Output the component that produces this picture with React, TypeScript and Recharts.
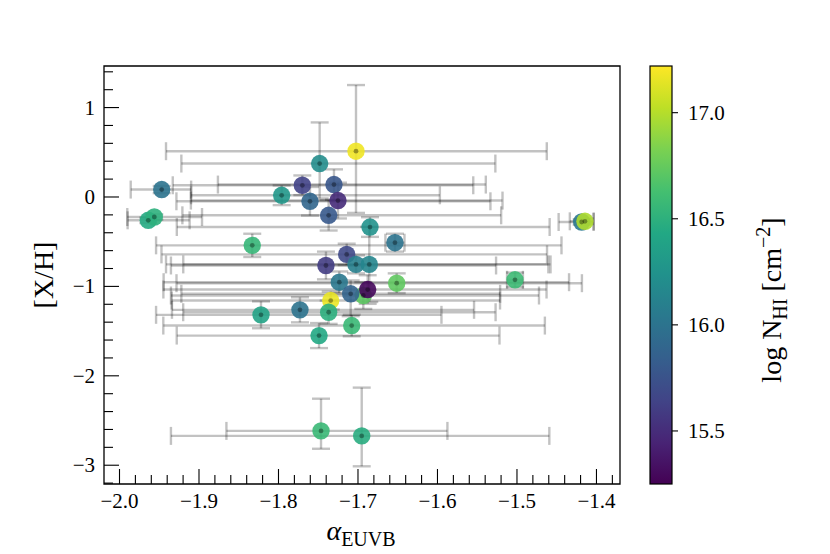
import React from 'react'
import { ScatterChart, Scatter, XAxis, YAxis, ErrorBar, ReferenceArea } from 'recharts'

// alpha_EUVB vs [X/H] per absorber, coloured by log N_HI
const alphaEuvb = [
  -1.7025, -1.7482, -1.77, -1.7302, -1.9469, -1.796, -1.7604, -1.7252, -1.7369,
  -1.9638, -1.9562, -1.4186, -1.4145, -1.6849, -1.833, -1.6535, -1.7142, -1.7403,
  -1.7025, -1.6858, -1.5025, -1.7235, -1.6513, -1.6933, -1.7092, -1.6878, -1.7343,
  -1.7369, -1.773, -1.822, -1.7079, -1.749, -1.7465, -1.6953,
]
const alphaErrLow = [
  0.239, 0.174, 0.163, 0.146, 0.039, 0.114, 0.168, 0.185, 0.184,
  0.026, 0.034, 0.029, 0.019, 0.243, 0.121, 0.012, 0.233, 0.195,
  0.239, 0.234, 0.01, 0.221, 0.277, 0.242, 0.213, 0.257, 0.2,
  0.183, 0.161, 0.132, 0.237, 0.179, 0.119, 0.24,
]
const alphaErrHigh = [
  0.24, 0.221, 0.215, 0.191, 0.037, 0.199, 0.227, 0.207, 0.217,
  0.052, 0.06, 0.015, 0.011, 0.226, 0.389, 0.012, 0.252, 0.214,
  0.242, 0.228, 0.01, 0.289, 0.233, 0.221, 0.188, 0.225, 0.213,
  0.21, 0.219, 0.227, 0.243, 0.227, 0.159, 0.236,
]
const metallicity = [
  0.512, 0.374, 0.131, 0.139, 0.083, 0.019, -0.048, -0.04, -0.205,
  -0.261, -0.224, -0.28, -0.272, -0.336, -0.541, -0.511, -0.642, -0.766,
  -0.754, -0.754, -0.926, -0.953, -0.964, -1.102, -1.083, -1.035, -1.158,
  -1.289, -1.262, -1.318, -1.438, -1.55, -2.616, -2.672,
]
const metalErrLow = [
  0.69, 0.39, 0.11, 0.17, 0.04, 0.11, 0.16, 0.2, 0.17,
  0.03, 0.03, 0.03, 0.03, 0.11, 0.13, 0.1, 0.12, 0.155,
  0.1, 0.42, 0.08, 0.12, 0.11, 0.15, 0.25, 0.16, 0.1,
  0.13, 0.14, 0.15, 0.12, 0.14, 0.2, 0.34,
]
const metalErrHigh = [
  0.74, 0.46, 0.11, 0.17, 0.04, 0.11, 0.16, 0.2, 0.17,
  0.03, 0.03, 0.03, 0.03, 0.11, 0.13, 0.1, 0.12, 0.155,
  0.1, 0.42, 0.08, 0.12, 0.11, 0.15, 0.15, 0.16, 0.1,
  0.13, 0.14, 0.15, 0.12, 0.14, 0.36, 0.54,
]
const logNHI = [
  17.18, 16.2, 15.64, 15.78, 16.0, 16.29, 15.9, 15.49, 15.8,
  16.45, 16.5, 16.04, 16.98, 16.24, 16.55, 16.0, 15.68, 15.6,
  16.1, 16.14, 16.59, 16.04, 16.73, 16.72, 15.88, 15.29, 17.16,
  16.49, 16.0, 16.39, 16.57, 16.43, 16.57, 16.47,
]

const xMajorTicks = [-2.0, -1.9, -1.8, -1.7, -1.6, -1.5, -1.4]
const yMajorTicks = [1, 0, -1, -2, -3]
const cbarTicks = [15.5, 16.0, 16.5, 17.0]

const X_DOMAIN: [number, number] = [-2.0195, -1.3704]
const Y_DOMAIN: [number, number] = [-3.21, 1.465]
const Z_MIN = 15.25
const Z_MAX = 17.22

const FONT = '"Liberation Serif", "DejaVu Serif", serif'
const MINUS = '\u2212'
const ERR_STROKE = 'rgba(0,0,0,0.24)'

const VIRIDIS = ['#440154', '#482475', '#414487', '#355f8d', '#2a788e', '#21918c',
  '#22a884', '#44bf70', '#7ad151', '#bddf26', '#fde725']

function hexRgb(h: string) {
  return [1, 3, 5].map(i => parseInt(h.slice(i, i + 2), 16))
}
function viridis(t: number) {
  const s = Math.min(Math.max(t, 0), 1) * (VIRIDIS.length - 1)
  const i = Math.min(Math.floor(s), VIRIDIS.length - 2)
  const f = s - i
  const a = hexRgb(VIRIDIS[i]), b = hexRgb(VIRIDIS[i + 1])
  const c = a.map((v, k) => Math.round(v + (b[k] - v) * f))
  return `rgb(${c[0]},${c[1]},${c[2]})`
}

// minor ticks like matplotlib's AutoMinorLocator
function withMinor(major: number[], n: number, lo: number, hi: number) {
  const sorted = [...major].sort((a, b) => a - b)
  const step = (sorted[1] - sorted[0]) / n
  const out: number[] = []
  for (let v = sorted[0] - step * 20; v <= hi + 1e-9; v += step) {
    const r = Math.round(v / step) * step
    if (r >= lo - 1e-9) out.push(Number(r.toFixed(4)))
  }
  return out
}
const xTicks = withMinor(xMajorTicks, 5, X_DOMAIN[0], X_DOMAIN[1])
const yTicks = withMinor(yMajorTicks, 5, Y_DOMAIN[0], Y_DOMAIN[1])

const isMajor = (v: number, list: number[]) => list.some(m => Math.abs(m - v) < 1e-6)
const fmt = (v: number, digits: number) =>
  (v < 0 ? MINUS : '') + Math.abs(v).toFixed(digits)

const points = alphaEuvb.map((x, i) => ({
  x,
  y: metallicity[i],
  ex: [alphaErrLow[i], alphaErrHigh[i]],
  ey: [metalErrLow[i], metalErrHigh[i]],
  z: logNHI[i],
}))

const XTick = (props: any) => {
  const { x, y, payload } = props
  const major = isMajor(payload.value, xMajorTicks)
  return (
    <g>
      <line x1={x} x2={x} y1={y} y2={y - (major ? 15 : 9)} stroke="#000" strokeWidth={1.1} />
      {major && (
        <text x={x} y={y + 23.5} textAnchor="middle" fontSize={21} fontFamily={FONT} fill="#000">
          {fmt(payload.value, 1)}
        </text>
      )}
    </g>
  )
}

const YTick = (props: any) => {
  const { x, y, payload } = props
  const major = isMajor(payload.value, yMajorTicks)
  return (
    <g>
      <line x1={x} x2={x + (major ? 15 : 9)} y1={y} y2={y} stroke="#000" strokeWidth={1.1} />
      {major && (
        <text x={x - 9} y={y + 7} textAnchor="end" fontSize={21} fontFamily={FONT} fill="#000">
          {fmt(payload.value, 0)}
        </text>
      )}
    </g>
  )
}

const Disc = (props: any) => {
  const { cx, cy, payload } = props
  return <circle cx={cx} cy={cy} r={8.7} fill={viridis((payload.z - Z_MIN) / (Z_MAX - Z_MIN))} fillOpacity={0.9} />
}

const CenterDot = (props: any) => {
  const { cx, cy } = props
  return <circle cx={cx} cy={cy} r={2.4} fill="#000" fillOpacity={0.35} />
}

const CB = { left: 650, right: 672, top: 66, bottom: 484 }
const cbY = (z: number) => CB.bottom - ((z - Z_MIN) / (Z_MAX - Z_MIN)) * (CB.bottom - CB.top)

export default function App() {
  return (
    <div style={{ position: 'absolute', left: 0, top: 0, width: 830, height: 554, background: '#fff' }}>
      <ScatterChart width={830} height={554} margin={{ top: 66, right: 210, bottom: 30, left: 64 }}>
        <XAxis
          type="number"
          dataKey="x"
          domain={X_DOMAIN}
          ticks={xTicks}
          interval={0}
          tick={<XTick />}
          tickLine={false}
          axisLine={false}
          tickSize={0}
          tickMargin={0}
          height={40}
          allowDataOverflow
        />
        <YAxis
          type="number"
          dataKey="y"
          domain={Y_DOMAIN}
          ticks={yTicks}
          interval={0}
          tick={<YTick />}
          tickLine={false}
          axisLine={false}
          tickSize={0}
          tickMargin={0}
          width={40}
          allowDataOverflow
        />
        <ReferenceArea
          x1={X_DOMAIN[0]}
          x2={X_DOMAIN[1]}
          y1={Y_DOMAIN[0]}
          y2={Y_DOMAIN[1]}
          fill="none"
          stroke="#000"
          strokeWidth={1.3}
          ifOverflow="visible"
        />
        <Scatter data={points} shape={<Disc />} isAnimationActive={false} />
        <Scatter data={points} shape={<CenterDot />} isAnimationActive={false}>
          <ErrorBar dataKey="ex" direction="x" width={9} stroke={ERR_STROKE} strokeWidth={2.4} isAnimationActive={false} />
          <ErrorBar dataKey="ey" direction="y" width={9} stroke={ERR_STROKE} strokeWidth={2.4} isAnimationActive={false} />
        </Scatter>
      </ScatterChart>

      <svg width={830} height={554} style={{ position: 'absolute', left: 0, top: 0, pointerEvents: 'none' }}>
        <defs>
          <linearGradient id="viridis" x1="0" y1="1" x2="0" y2="0">
            {VIRIDIS.map((c, i) => (
              <stop key={c} offset={i / (VIRIDIS.length - 1)} stopColor={c} />
            ))}
          </linearGradient>
        </defs>
        <rect x={CB.left} y={CB.top} width={CB.right - CB.left} height={CB.bottom - CB.top}
          fill="url(#viridis)" stroke="#000" strokeWidth={1.2} />
        {cbarTicks.map(t => (
          <g key={t}>
            <line x1={CB.right} x2={CB.right + 6} y1={cbY(t)} y2={cbY(t)} stroke="#000" strokeWidth={1.1} />
            <text x={CB.right + 16} y={cbY(t) + 7} fontSize={21} fontFamily={FONT} fill="#000">
              {t.toFixed(1)}
            </text>
          </g>
        ))}
        <text transform="translate(53,275) rotate(-90)" textAnchor="middle" fontSize={28} fontFamily={FONT} fill="#000">
          [X/H]
        </text>
        <text x={361} y={539.5} textAnchor="middle" fontSize={28} fontFamily={FONT} fill="#000">
          <tspan fontStyle="italic">α</tspan>
          <tspan dy={6} fontSize={20}>EUVB</tspan>
        </text>
        <text transform="translate(781,300) rotate(-90)" textAnchor="middle" fontSize={28} fontFamily={FONT} fill="#000">
          <tspan>log N</tspan>
          <tspan dy={6} fontSize={20}>HI</tspan>
          <tspan dy={-6}> [cm</tspan>
          <tspan dy={-11} fontSize={20}>{MINUS}2</tspan>
          <tspan dy={11}>]</tspan>
        </text>
      </svg>
    </div>
  )
}
